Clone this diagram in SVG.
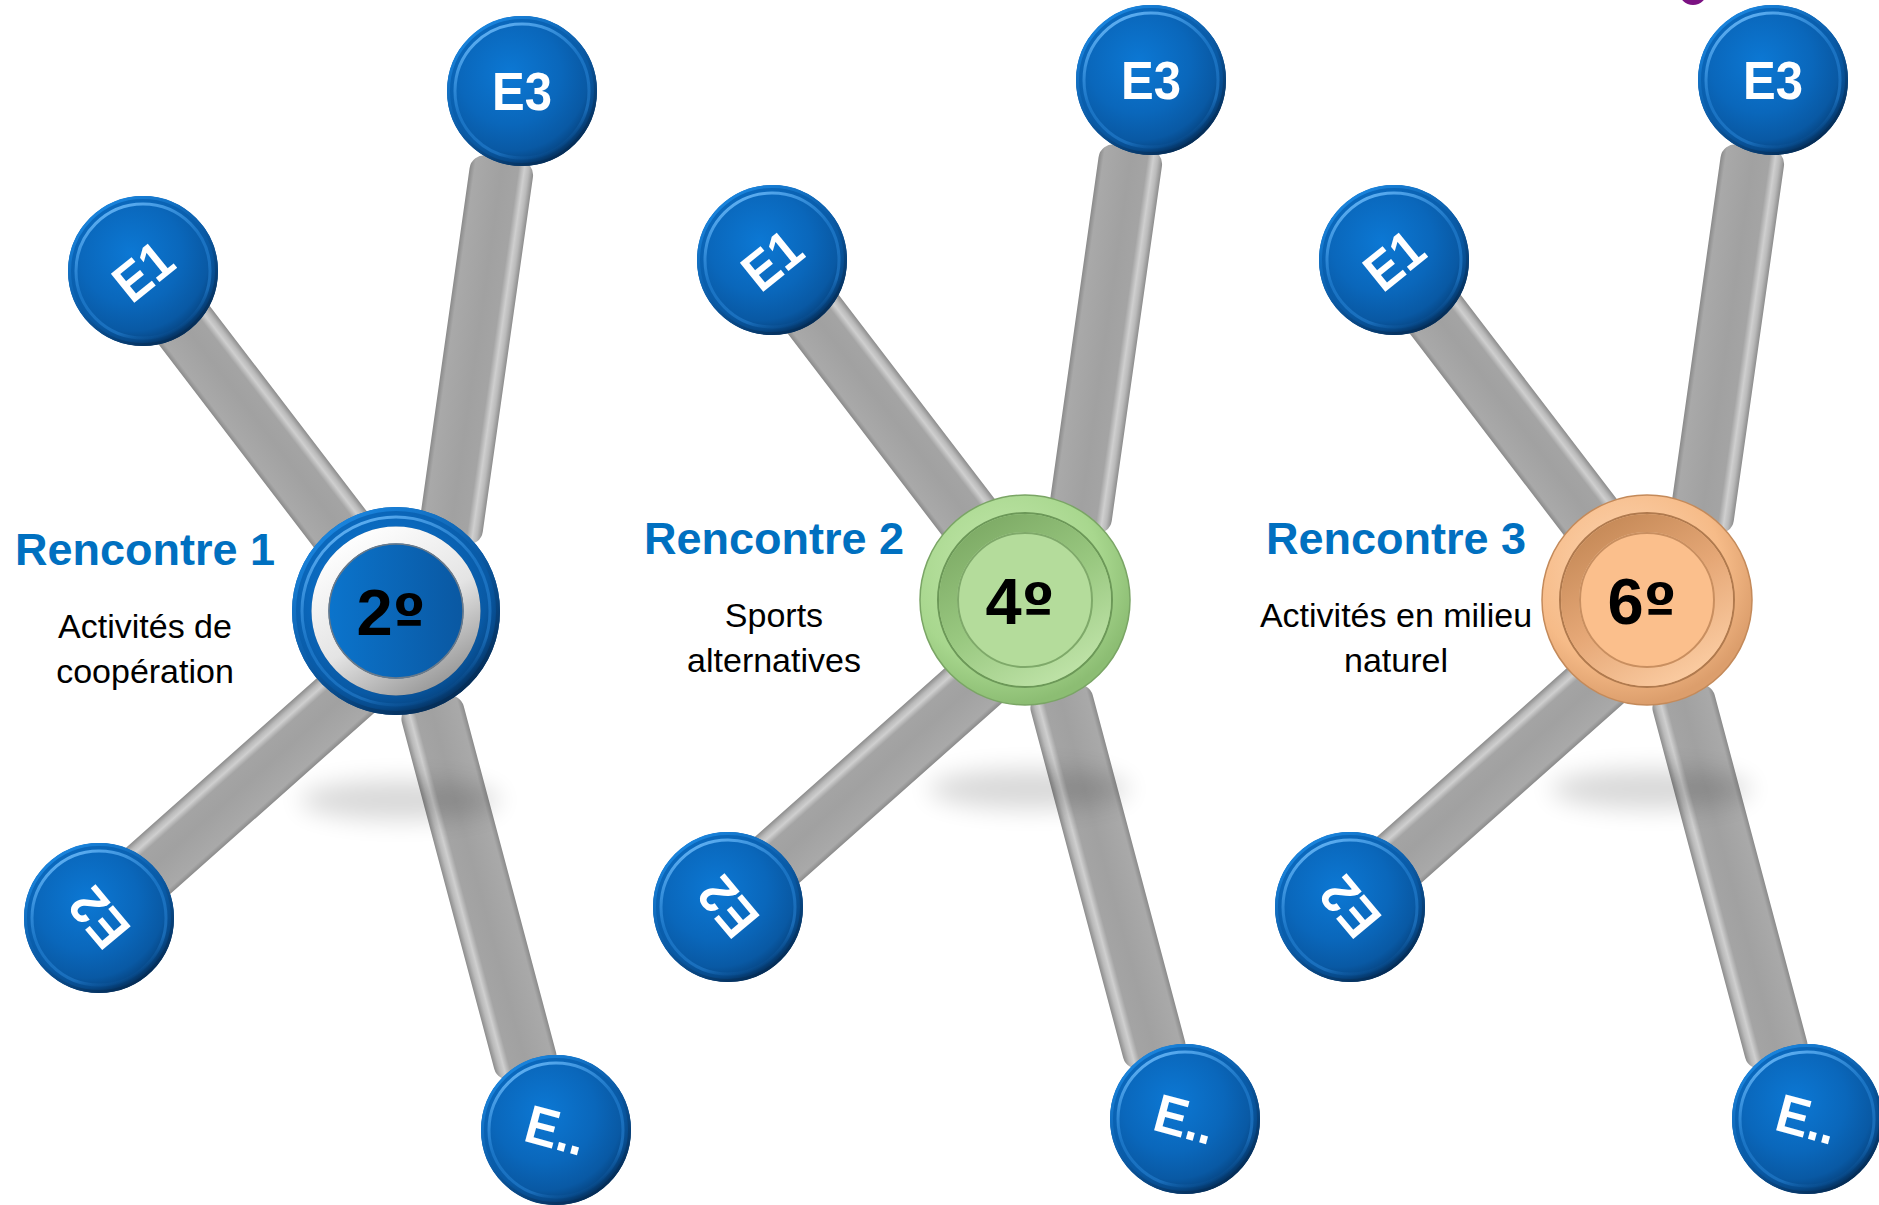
<svg xmlns="http://www.w3.org/2000/svg" xmlns:xlink="http://www.w3.org/1999/xlink" width="1879" height="1205" viewBox="0 0 1879 1205">
<style>
  .lbl { font-family: "Liberation Sans", Arial, sans-serif; font-weight: bold; font-size: 54px; fill: #ffffff; text-anchor: middle; }
  .hubTxt { font-family: "Liberation Sans", Arial, sans-serif; font-weight: bold; font-size: 65px; fill: #000000; text-anchor: middle; }
  .ord { font-family: "DejaVu Sans", sans-serif; font-weight: bold; font-size: 58px; }
  .head { font-family: "Liberation Sans", Arial, sans-serif; font-weight: bold; font-size: 45px; fill: #0070c0; text-anchor: middle; }
  .desc { font-family: "Liberation Sans", Arial, sans-serif; font-size: 34px; fill: #000000; text-anchor: middle; }
  .spoke { fill: url(#spokeGrad); }
  .shadow { fill: #000000; opacity: 0.15; filter: url(#blur); }
</style>
<defs>
  <filter id="blur" x="-50%" y="-100%" width="200%" height="300%">
    <feGaussianBlur stdDeviation="12"/>
  </filter>
  <linearGradient id="spokeGrad" x1="0" y1="0" x2="0" y2="1">
    <stop offset="0" stop-color="#8a8a8a"/>
    <stop offset="0.08" stop-color="#a9a9a9"/>
    <stop offset="0.5" stop-color="#a1a1a1"/>
    <stop offset="0.76" stop-color="#a4a4a4"/>
    <stop offset="0.85" stop-color="#cfcfcf"/>
    <stop offset="0.92" stop-color="#bababa"/>
    <stop offset="1" stop-color="#8c8c8c"/>
  </linearGradient>
  <radialGradient id="blueFace" cx="0.42" cy="0.38" r="0.62">
    <stop offset="0" stop-color="#0c78d4"/>
    <stop offset="0.55" stop-color="#0a67bb"/>
    <stop offset="0.84" stop-color="#0959a4"/>
    <stop offset="0.94" stop-color="#074a8b"/>
    <stop offset="1" stop-color="#053668"/>
  </radialGradient>
  <linearGradient id="blueRim" x1="0.25" y1="0" x2="0.75" y2="1">
    <stop offset="0" stop-color="#6ab8f7" stop-opacity="0.95"/>
    <stop offset="0.45" stop-color="#2f8fe2" stop-opacity="0.45"/>
    <stop offset="0.8" stop-color="#2a86d8" stop-opacity="0.5"/>
    <stop offset="1" stop-color="#0a4f92" stop-opacity="0"/>
  </linearGradient>
  <linearGradient id="blueEdge" x1="0.2" y1="0.05" x2="0.8" y2="0.95">
    <stop offset="0" stop-color="#1a86e0"/>
    <stop offset="0.5" stop-color="#0b5aa5"/>
    <stop offset="1" stop-color="#042a52"/>
  </linearGradient>
  <linearGradient id="blueDisk" x1="0" y1="0" x2="1" y2="0">
    <stop offset="0" stop-color="#0b74cc"/>
    <stop offset="1" stop-color="#0a58a2"/>
  </linearGradient>
  <linearGradient id="silver" x1="0.2" y1="0" x2="0.8" y2="1">
    <stop offset="0" stop-color="#ffffff"/>
    <stop offset="0.55" stop-color="#e4e4e4"/>
    <stop offset="1" stop-color="#979797"/>
  </linearGradient>
  <radialGradient id="greenFace" cx="0.4" cy="0.35" r="0.65">
    <stop offset="0" stop-color="#c4e8ad"/>
    <stop offset="0.7" stop-color="#a8d78e"/>
    <stop offset="1" stop-color="#8cbd73"/>
  </radialGradient>
  <linearGradient id="greenBand" x1="0.2" y1="0" x2="0.8" y2="1">
    <stop offset="0" stop-color="#7eab66"/>
    <stop offset="0.5" stop-color="#99c880"/>
    <stop offset="1" stop-color="#bfe3a8"/>
  </linearGradient>
  <radialGradient id="orangeFace" cx="0.4" cy="0.35" r="0.65">
    <stop offset="0" stop-color="#fdd6b3"/>
    <stop offset="0.7" stop-color="#f6bb88"/>
    <stop offset="1" stop-color="#dc9e6c"/>
  </radialGradient>
  <linearGradient id="orangeBand" x1="0.2" y1="0" x2="0.8" y2="1">
    <stop offset="0" stop-color="#c68a58"/>
    <stop offset="0.5" stop-color="#e6a877"/>
    <stop offset="1" stop-color="#fbcca2"/>
  </linearGradient>
  <g id="ball">
    <circle r="75" fill="url(#blueFace)"/>
    <circle r="73.5" fill="none" stroke="url(#blueEdge)" stroke-width="3"/>
    <circle r="67" fill="none" stroke="url(#blueRim)" stroke-width="3"/>
  </g>
  <g id="spokes">
    <rect class="spoke" x="0" y="-32" width="389" height="64" rx="15" transform="translate(379,580) rotate(-127.4)"/>
    <rect class="spoke" x="0" y="-32" width="388" height="64" rx="15" transform="translate(449,542) rotate(-81.95)"/>
    <rect class="spoke" x="0" y="-32" width="360" height="64" rx="15" transform="translate(375.7,668.8) rotate(138.4)"/>
    <rect class="spoke" x="0" y="-32" width="388" height="64" rx="15" transform="translate(429,700) rotate(75.07)"/>
  </g>
</defs>

<rect x="0" y="0" width="1879" height="1205" fill="#ffffff"/>
<circle cx="1693" cy="-9" r="14" fill="#7b1182"/>

<g id="connectors">
  <use xlink:href="#spokes" href="#spokes"/>
  <use xlink:href="#spokes" href="#spokes" transform="translate(629,-11)"/>
  <use xlink:href="#spokes" href="#spokes" transform="translate(1251,-11)"/>
</g>

<g id="shadows">
  <ellipse class="shadow" cx="400" cy="800" rx="100" ry="20"/>
  <ellipse class="shadow" cx="1029" cy="789" rx="100" ry="20"/>
  <ellipse class="shadow" cx="1651" cy="789" rx="100" ry="20"/>
</g>

<!-- Group 1 -->
<g id="g1-hub" transform="translate(396,611)">
  <circle r="104" fill="url(#blueFace)"/>
  <circle r="102" fill="none" stroke="url(#blueEdge)" stroke-width="4"/>
  <circle r="94" fill="none" stroke="url(#blueRim)" stroke-width="3"/>
  <circle r="84.5" fill="#0a3c70" opacity="0.6"/>
  <circle r="76" fill="none" stroke="url(#silver)" stroke-width="17"/>
  <circle r="67" fill="url(#blueDisk)" stroke="#6a7a8a" stroke-width="1.5"/>
  <text class="hubTxt" x="-5" y="24">2<tspan class="ord">º</tspan></text>
</g>
<g id="g1-E1" transform="translate(143,271)"><use xlink:href="#ball" href="#ball"/><text class="lbl" x="0" y="19" transform="rotate(-39)" textLength="60" lengthAdjust="spacingAndGlyphs">E1</text></g>
<g id="g1-E3" transform="translate(522,91)"><use xlink:href="#ball" href="#ball"/><text class="lbl" x="0" y="19" textLength="60" lengthAdjust="spacingAndGlyphs">E3</text></g>
<g id="g1-E2" transform="translate(99,918)"><use xlink:href="#ball" href="#ball"/><text class="lbl" x="0" y="19" transform="rotate(-130)" textLength="60" lengthAdjust="spacingAndGlyphs">E2</text></g>
<g id="g1-E4" transform="translate(556,1130)"><use xlink:href="#ball" href="#ball"/><text class="lbl" x="0" y="19" transform="rotate(15)" textLength="60" lengthAdjust="spacingAndGlyphs">E..</text></g>
<g id="g1-text">
  <text class="head" x="145" y="565">Rencontre 1</text>
  <text class="desc" x="145" y="638">Activités de</text>
  <text class="desc" x="145" y="683">coopération</text>
</g>

<!-- Group 2 -->
<g id="g2-hub" transform="translate(1025,600)">
  <circle r="105" fill="url(#greenFace)" stroke="#7aa565" stroke-width="1.5"/>
  <circle r="87" fill="none" stroke="#6c9858" stroke-width="2"/>
  <circle r="77" fill="none" stroke="url(#greenBand)" stroke-width="18"/>
  <circle r="67" fill="#b4dc9b" stroke="#7fa96a" stroke-width="2"/>
  <text class="hubTxt" x="-5" y="24">4<tspan class="ord">º</tspan></text>
</g>
<g id="g2-E1" transform="translate(772,260)"><use xlink:href="#ball" href="#ball"/><text class="lbl" x="0" y="19" transform="rotate(-39)" textLength="60" lengthAdjust="spacingAndGlyphs">E1</text></g>
<g id="g2-E3" transform="translate(1151,80)"><use xlink:href="#ball" href="#ball"/><text class="lbl" x="0" y="19" textLength="60" lengthAdjust="spacingAndGlyphs">E3</text></g>
<g id="g2-E2" transform="translate(728,907)"><use xlink:href="#ball" href="#ball"/><text class="lbl" x="0" y="19" transform="rotate(-130)" textLength="60" lengthAdjust="spacingAndGlyphs">E2</text></g>
<g id="g2-E4" transform="translate(1185,1119)"><use xlink:href="#ball" href="#ball"/><text class="lbl" x="0" y="19" transform="rotate(15)" textLength="60" lengthAdjust="spacingAndGlyphs">E..</text></g>
<g id="g2-text">
  <text class="head" x="774" y="554">Rencontre 2</text>
  <text class="desc" x="774" y="627">Sports</text>
  <text class="desc" x="774" y="672">alternatives</text>
</g>

<!-- Group 3 -->
<g id="g3-hub" transform="translate(1647,600)">
  <circle r="105" fill="url(#orangeFace)" stroke="#c48a5a" stroke-width="1.5"/>
  <circle r="87" fill="none" stroke="#b07a4e" stroke-width="2"/>
  <circle r="77" fill="none" stroke="url(#orangeBand)" stroke-width="18"/>
  <circle r="67" fill="#fbbf8c" stroke="#c98f60" stroke-width="2"/>
  <text class="hubTxt" x="-5" y="24">6<tspan class="ord">º</tspan></text>
</g>
<g id="g3-E1" transform="translate(1394,260)"><use xlink:href="#ball" href="#ball"/><text class="lbl" x="0" y="19" transform="rotate(-39)" textLength="60" lengthAdjust="spacingAndGlyphs">E1</text></g>
<g id="g3-E3" transform="translate(1773,80)"><use xlink:href="#ball" href="#ball"/><text class="lbl" x="0" y="19" textLength="60" lengthAdjust="spacingAndGlyphs">E3</text></g>
<g id="g3-E2" transform="translate(1350,907)"><use xlink:href="#ball" href="#ball"/><text class="lbl" x="0" y="19" transform="rotate(-130)" textLength="60" lengthAdjust="spacingAndGlyphs">E2</text></g>
<g id="g3-E4" transform="translate(1807,1119)"><use xlink:href="#ball" href="#ball"/><text class="lbl" x="0" y="19" transform="rotate(15)" textLength="60" lengthAdjust="spacingAndGlyphs">E..</text></g>
<g id="g3-text">
  <text class="head" x="1396" y="554">Rencontre 3</text>
  <text class="desc" x="1396" y="627">Activités en milieu</text>
  <text class="desc" x="1396" y="672">naturel</text>
</g>
</svg>
